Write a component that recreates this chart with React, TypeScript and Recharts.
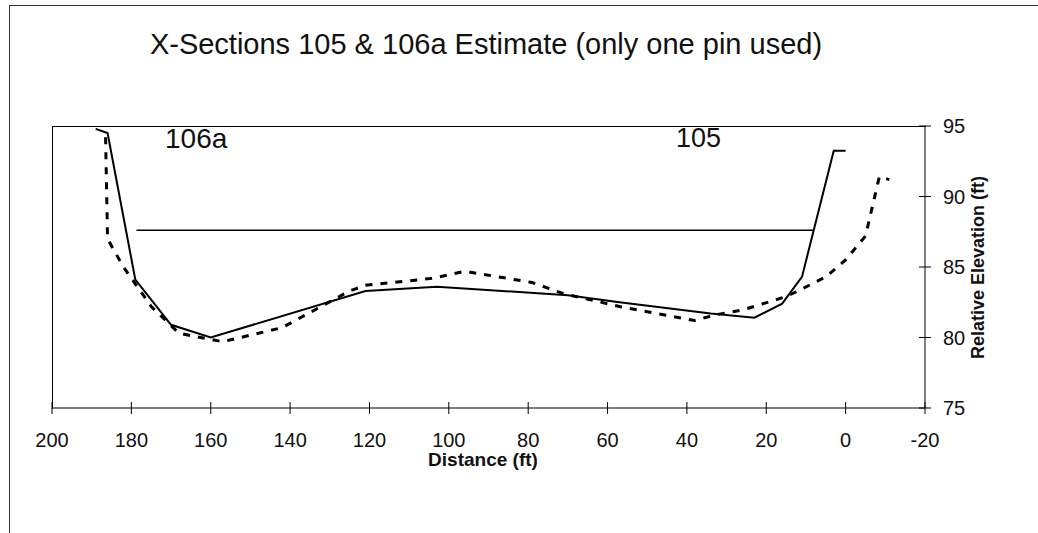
import React from 'react';
import { LineChart, Line, XAxis, YAxis } from 'recharts';

// distance (ft) / relative elevation (ft)
const xs105Dist = [189, 186, 179, 170, 160, 121, 103, 70, 57, 34, 23, 16, 11, 3, 0];
const xs105Elev = [94.8, 94.5, 84.1, 80.9, 80.0, 83.3, 83.6, 83.0, 82.5, 81.7, 81.4, 82.4, 84.3, 93.25, 93.25];

const xs106Dist = [186.5, 186, 182, 175, 168, 157, 142, 125, 121, 104, 96, 79, 71, 57, 38, 33, 26, 15, 12, 5, 0, -5, -8.5, -11];
const xs106Elev = [94.2, 87.0, 85.0, 82.2, 80.3, 79.7, 80.7, 83.3, 83.7, 84.2, 84.7, 83.9, 83.1, 82.2, 81.2, 81.6, 81.95, 82.9, 83.3, 84.3, 85.5, 87.2, 91.4, 91.2];

const pinDist = [178.7, 8.2];
const pinElev = [87.6, 87.6];

const xTicks = [200, 180, 160, 140, 120, 100, 80, 60, 40, 20, 0, -20];
const yTicks = [75, 80, 85, 90, 95];

const toRows = (d: number[], e: number[]) => d.map((v, i) => ({ dist: v, elev: e[i] }));

const FONT = '"Liberation Sans", Arial, sans-serif';

function XTick(props: any) {
  const { x, y, payload } = props;
  return (
    <g>
      <line x1={x} x2={x} y1={y - 6} y2={y + 6} stroke="#000" />
      <text x={x} y={y + 39} textAnchor="middle" fontSize={20} fontFamily={FONT} fill="#111">
        {payload.value}
      </text>
    </g>
  );
}

function YTick(props: any) {
  const { x, y, payload } = props;
  return (
    <g>
      <line x1={x - 6} x2={x + 6} y1={y} y2={y} stroke="#000" />
      <text x={x + 18} y={y} dy="0.35em" textAnchor="start" fontSize={20} fontFamily={FONT} fill="#111">
        {payload.value}
      </text>
    </g>
  );
}

export default function App() {
  return (
    <div style={{ position: 'relative', width: 1038, height: 533, background: '#fff', fontFamily: FONT }}>
      <style>{'body{margin:0}'}</style>
      {/* outer frame of the scanned chart */}
      <div
        style={{
          position: 'absolute',
          left: 9,
          top: 5,
          width: 1029,
          height: 528,
          borderLeft: '1px solid #333',
          borderTop: '1px solid #333',
        }}
      />
      {/* plot area frame, top and left */}
      <div
        style={{
          position: 'absolute',
          left: 52,
          top: 126,
          width: 873,
          height: 282,
          borderLeft: '1px solid #000',
          borderTop: '1px solid #000',
        }}
      />
      <div style={{ position: 'absolute', left: 0, top: 0 }}>
        <LineChart width={1038} height={533} margin={{ top: 126, right: 53, bottom: 65, left: 52 }}>
          <XAxis
            type="number"
            dataKey="dist"
            domain={[-20, 200]}
            ticks={xTicks}
            reversed
            height={60}
            stroke="#000"
            tickLine={false}
            tickSize={0}
            tickMargin={0}
            tick={<XTick />}
            interval={0}
          />
          <YAxis
            orientation="right"
            type="number"
            domain={[75, 95]}
            ticks={yTicks}
            width={60}
            stroke="#000"
            tickLine={false}
            tickSize={0}
            tickMargin={0}
            tick={<YTick />}
            interval={0}
          />
          <Line
            data={toRows(pinDist, pinElev)}
            dataKey="elev"
            type="linear"
            stroke="#000"
            strokeWidth={1.5}
            dot={false}
            isAnimationActive={false}
          />
          <Line
            data={toRows(xs106Dist, xs106Elev)}
            dataKey="elev"
            type="linear"
            stroke="#000"
            strokeWidth={3}
            strokeDasharray="7 8"
            dot={false}
            isAnimationActive={false}
          />
          <Line
            data={toRows(xs105Dist, xs105Elev)}
            dataKey="elev"
            type="linear"
            stroke="#000"
            strokeWidth={2}
            dot={false}
            isAnimationActive={false}
          />
        </LineChart>
      </div>
      <div style={{ position: 'absolute', left: 0, width: 972, top: 28, textAlign: 'center', fontSize: 29, color: '#111' }}>
        X-Sections 105 &amp; 106a Estimate (only one pin used)
      </div>
      <div style={{ position: 'absolute', left: 165, top: 123, fontSize: 28, color: '#111' }}>106a</div>
      <div style={{ position: 'absolute', left: 676, top: 123, fontSize: 27, color: '#111' }}>105</div>
      <div
        style={{ position: 'absolute', left: 383, width: 200, top: 449, textAlign: 'center', fontSize: 19, fontWeight: 'bold', color: '#111' }}
      >
        Distance (ft)
      </div>
      <div
        style={{
          position: 'absolute',
          left: 978 - 100,
          top: 268 - 11,
          width: 200,
          textAlign: 'center',
          fontSize: 18,
          fontWeight: 'bold',
          color: '#111',
          transform: 'rotate(-90deg)',
        }}
      >
        Relative Elevation (ft)
      </div>
    </div>
  );
}
